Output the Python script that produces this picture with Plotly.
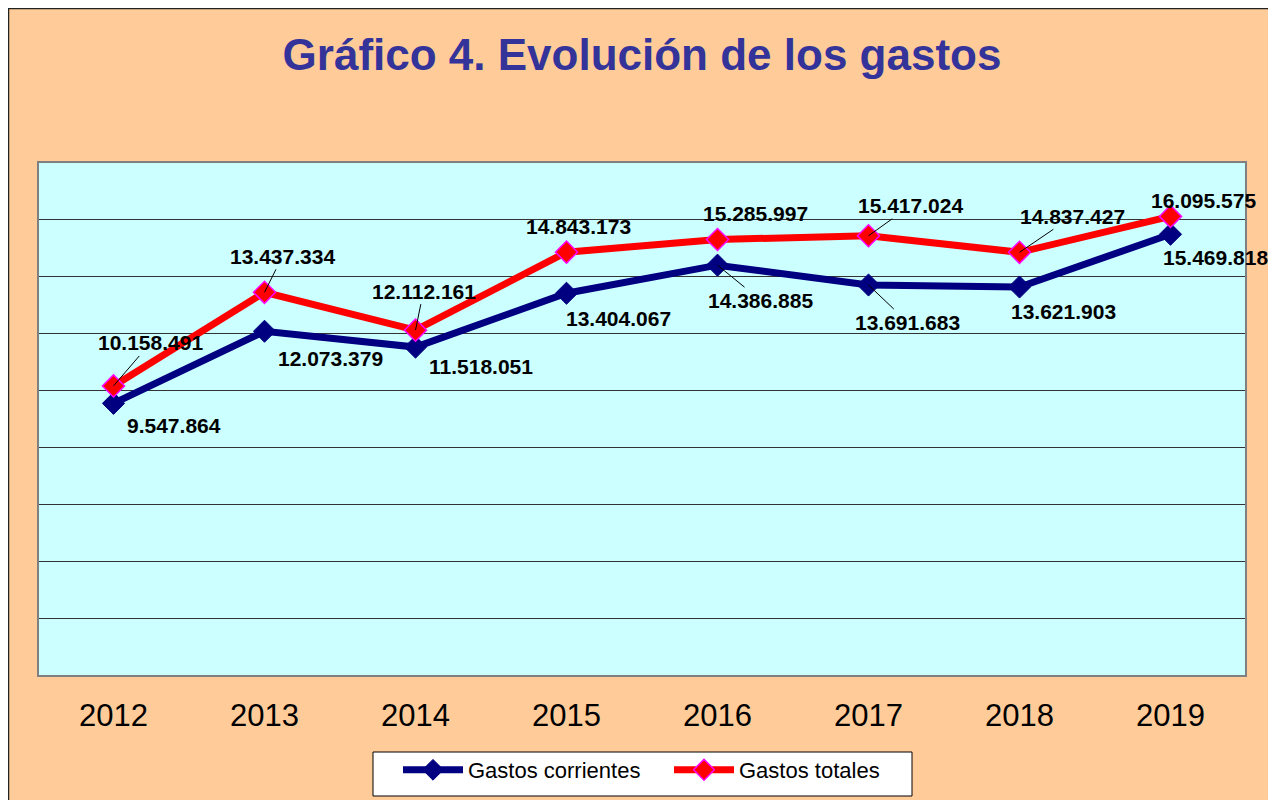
import plotly.graph_objects as go

years = ["2012", "2013", "2014", "2015", "2016", "2017", "2018", "2019"]
gastos_corrientes = [9547864, 12073379, 11518051, 13404067, 14386885, 13691683, 13621903, 15469818]
gastos_totales = [10158491, 13437334, 12112161, 14843173, 15285997, 15417024, 14837427, 16095575]

# label placement (pixel offsets, leader line flag) - styling only
tot_pos = [(37, -43, True), (18, -36, True), (8, -39, True), (12, -26, False),
           (38, -26, False), (42, -30, True), (53, -36, True), (33, -16, False)]
cor_pos = [(60, 22, False), (66, 27, False), (65, 19, False), (52, 25, False),
           (43, 35, True), (39, 37, True), (44, 24, False), (45, 23, False)]

FONT = "Arial, Liberation Sans, sans-serif"

def fmt(v):
    return f"{v:,}".replace(",", ".")

fig = go.Figure()
fig.add_trace(go.Scatter(
    x=years, y=gastos_corrientes, name="Gastos corrientes", mode="lines+markers",
    line=dict(color="#000080", width=7),
    marker=dict(symbol="diamond", size=17, color="#000080", line=dict(color="#000080", width=1)),
    hoverinfo="skip"))
fig.add_trace(go.Scatter(
    x=years, y=gastos_totales, name="Gastos totales", mode="lines+markers",
    line=dict(color="#FF0000", width=7),
    marker=dict(symbol="diamond", size=17, color="#FF0000", line=dict(color="#FF00FF", width=1.5)),
    hoverinfo="skip"))

annotations = []
for series, pos in ((gastos_totales, tot_pos), (gastos_corrientes, cor_pos)):
    for i, (v, (dx, dy, leader)) in enumerate(zip(series, pos)):
        # category axis: position by category index
        a = dict(x=i, y=v, xref="x", yref="y", text="<b>" + fmt(v) + "</b>",
                 font=dict(family=FONT, size=21, color="black"))
        if leader:
            a.update(showarrow=True, ax=dx, ay=dy, arrowhead=0, arrowwidth=1,
                     arrowcolor="black", standoff=0)
        else:
            a.update(showarrow=False, xshift=dx, yshift=-dy)
        annotations.append(a)

# figure sits 8px inside the page (body margin)
W, H = 1267, 800
L, R, T, B = 30, 29, 154, 132
pw, ph = W - L - R, H - T - B

def px(x):
    return (x - L) / pw

def py(y):
    return 1 - (y - T) / ph

shapes = [
    # outer chart border
    dict(type="rect", xref="paper", yref="paper", x0=px(0.5), x1=px(W - 0.5), y0=py(H + 5), y1=py(0.5),
         fillcolor="rgba(0,0,0,0)", line=dict(color="#222222", width=1.5), layer="above"),
    # plot-area border
    dict(type="rect", xref="paper", yref="paper", x0=0, x1=1, y0=0, y1=1,
         fillcolor="rgba(0,0,0,0)", line=dict(color="#808080", width=2), layer="above"),
    # legend box
    dict(type="rect", xref="paper", yref="paper", x0=px(365), x1=px(904), y0=py(788), y1=py(744),
         fillcolor="white", line=dict(color="black", width=1), layer="below"),
]

fig.update_layout(
    width=W, height=H,
    margin=dict(l=L, r=R, t=T, b=B),
    paper_bgcolor="#FFCC99",
    plot_bgcolor="#CCFFFF",
    title=dict(text="<b>Gráfico 4. Evolución de los gastos</b>", x=634 / W, xref="container",
               xanchor="center", y=1 - 47 / H, yref="container", yanchor="middle",
               font=dict(family=FONT, size=44, color="#333399")),
    xaxis=dict(type="category", range=[-0.5, 7.5], showgrid=False, zeroline=False,
               showline=False, ticks="", ticklabelstandoff=18,
               tickfont=dict(family=FONT, size=31, color="black")),
    yaxis=dict(range=[0, 18000000], dtick=2000000, showgrid=True, gridcolor="#333333",
               gridwidth=1, zeroline=True, zerolinecolor="#333333", zerolinewidth=1.5,
               showticklabels=False, ticks="", showline=False),
    legend=dict(orientation="h", xref="container", yref="container", x=390 / W, xanchor="left",
                y=1 - 762 / H, yanchor="middle", bgcolor="rgba(0,0,0,0)", borderwidth=0,
                font=dict(family=FONT, size=22, color="black"), entrywidth=196, itemwidth=60),
    showlegend=True,
    annotations=annotations,
    shapes=shapes,
)

fig.write_html("out.html")
